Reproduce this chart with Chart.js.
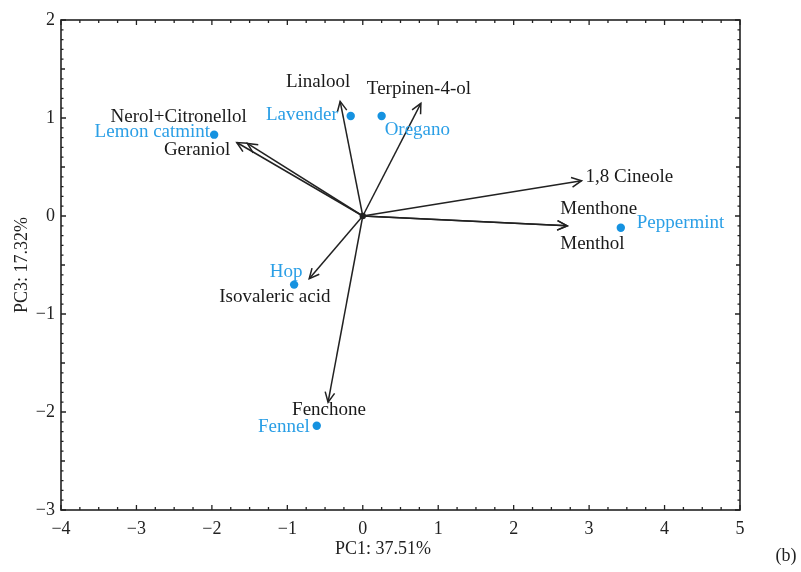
<!DOCTYPE html>
<html>
<head>
<meta charset="utf-8">
<script src="https://cdn.jsdelivr.net/npm/chart.js@4.4.1/dist/chart.umd.min.js"></script>
<style>
  html, body { margin:0; padding:0; background:#fff; }
  #wrap { width:801px; height:572px; }
</style>
</head>
<body>
<div id="wrap"><canvas id="biplot"></canvas></div>
<script>
// =======================
// DATA
// =======================
// sample scores (PC1, PC3)
const sampleNames = ["Lemon catmint", "Lavender", "Oregano", "Peppermint", "Hop", "Fennel"];
const sampleX = [-1.97, -0.16, 0.25, 3.42, -0.91, -0.61];
const sampleY = [0.83, 1.02, 1.02, -0.12, -0.70, -2.14];

// compound loadings (arrows from origin)
const loadingNames = ["Linalool", "Terpinen-4-ol", "Nerol+Citronellol", "Geraniol", "1,8 Cineole", "Menthone", "Menthol", "Isovaleric acid", "Fenchone"];
const loadingX = [-0.30, 0.77, -1.67, -1.53, 2.90, 2.71, 2.71, -0.71, -0.46];
const loadingY = [1.17, 1.15, 0.75, 0.74, 0.36, -0.10, -0.10, -0.64, -1.90];

const xTicks = [-4, -3, -2, -1, 0, 1, 2, 3, 4, 5];
const yTicks = [-3, -2, -1, 0, 1, 2];
const xTitle = "PC1: 37.51%";
const yTitle = "PC3: 17.32%";
const panelTag = "(b)";

// =======================
// STYLE
// =======================
const SERIF = "'Liberation Serif', 'DejaVu Serif', serif";
const INK = "#222222";
const BLUE_DOT = "#1592e0";
const BLUE_TEXT = "#2b9fe6";
const LABEL_FONT = "19px " + SERIF;

// label placement: pixel offset from the mark + text alignment
const sampleLabelPos = {
  "Lemon catmint": {dx:-4, dy:-3, align:"right"},
  "Lavender":      {dx:-13, dy:-1, align:"right"},
  "Oregano":       {dx:3, dy:14, align:"left"},
  "Peppermint":    {dx:16, dy:-5, align:"left"},
  "Hop":           {dx:-8, dy:-13, align:"center"},
  "Fennel":        {dx:-7, dy:1, align:"right"}
};
const loadingLabelPos = {
  "Linalool":          {dx:-22, dy:-19, align:"center"},
  "Terpinen-4-ol":     {dx:-54, dy:-14, align:"left"},
  "Nerol+Citronellol": {dx:10, dy:-25, align:"right"},
  "Geraniol":          {dx:-17, dy:7, align:"right"},
  "1,8 Cineole":       {dx:4, dy:-4, align:"left"},
  "Menthone":          {dx:-7, dy:-17, align:"left"},
  "Menthol":           {dx:-7, dy:18, align:"left"},
  "Isovaleric acid":   {dx:-90, dy:18, align:"left"},
  "Fenchone":          {dx:-36, dy:8, align:"left"}
};

function fmtTick(v){
  return v < 0 ? "\u2212" + Math.abs(v) : String(v);
}

// =======================
// DATASETS
// =======================
const arrowSets = loadingNames.map((name, i) => ({
  type: "line",
  label: name,
  data: [{x:0, y:0}, {x:loadingX[i], y:loadingY[i]}],
  showLine: true,
  borderColor: INK,
  borderWidth: 1.5,
  pointRadius: 0,
  isArrow: true
}));

const sampleSet = {
  type: "scatter",
  label: "samples",
  data: sampleNames.map((n, i) => ({x:sampleX[i], y:sampleY[i]})),
  pointRadius: 4.2,
  pointBackgroundColor: BLUE_DOT,
  pointBorderWidth: 0
};

const originSet = {
  type: "scatter",
  label: "origin",
  data: [{x:0, y:0}],
  pointRadius: 3.2,
  pointBackgroundColor: INK,
  pointBorderWidth: 0
};

// =======================
// PLUGINS
// =======================
const framePlugin = {
  id: "frame",
  afterDraw(chart){
    const {ctx, chartArea:a, scales} = chart;
    ctx.save();
    ctx.strokeStyle = INK;
    ctx.lineWidth = 1.6;
    ctx.strokeRect(a.left, a.top, a.right - a.left, a.bottom - a.top);

    ctx.lineWidth = 1.3;
    ctx.beginPath();
    // x ticks: every 0.25, long at integers
    for(let k = 0; k <= 36; k++){
      const v = -4 + k * 0.25;
      const px = scales.x.getPixelForValue(v);
      const len = (k % 4 === 0) ? 5 : 3;
      ctx.moveTo(px, a.bottom); ctx.lineTo(px, a.bottom - len);
      ctx.moveTo(px, a.top); ctx.lineTo(px, a.top + len);
    }
    // y ticks: every 0.1, medium at 0.5, long at integers
    for(let k = 0; k <= 50; k++){
      const v = -3 + k * 0.1;
      const py = scales.y.getPixelForValue(v);
      const len = (k % 10 === 0) ? 5 : (k % 5 === 0 ? 4 : 2.5);
      ctx.moveTo(a.left, py); ctx.lineTo(a.left + len, py);
      ctx.moveTo(a.right, py); ctx.lineTo(a.right - len, py);
    }
    ctx.stroke();

    // axis titles + panel tag
    ctx.fillStyle = INK;
    ctx.font = "18px " + SERIF;
    ctx.textBaseline = "middle";
    ctx.textAlign = "center";
    ctx.fillText(xTitle, 383, 549);
    ctx.save();
    ctx.translate(22, 265);
    ctx.rotate(-Math.PI / 2);
    ctx.fillText(yTitle, 0, 0);
    ctx.restore();
    ctx.fillText(panelTag, 786, 556);
    ctx.restore();
  }
};

const arrowPlugin = {
  id: "arrows",
  afterDatasetsDraw(chart){
    const {ctx} = chart;
    ctx.save();
    ctx.strokeStyle = INK;
    ctx.lineWidth = 1.5;
    ctx.font = LABEL_FONT;
    ctx.textBaseline = "middle";
    chart.data.datasets.forEach((ds, i) => {
      const meta = chart.getDatasetMeta(i);
      if(ds.isArrow){
        const p0 = meta.data[0], p1 = meta.data[1];
        const ang = Math.atan2(p1.y - p0.y, p1.x - p0.x);
        const L = 11, spread = 0.45;
        ctx.beginPath();
        ctx.moveTo(p1.x - L * Math.cos(ang - spread), p1.y - L * Math.sin(ang - spread));
        ctx.lineTo(p1.x, p1.y);
        ctx.lineTo(p1.x - L * Math.cos(ang + spread), p1.y - L * Math.sin(ang + spread));
        ctx.stroke();
        const pos = loadingLabelPos[ds.label];
        ctx.fillStyle = "#1a1a1a";
        ctx.textAlign = pos.align;
        ctx.fillText(ds.label, p1.x + pos.dx, p1.y + pos.dy);
      } else if(ds.label === "samples"){
        meta.data.forEach((pt, j) => {
          const name = sampleNames[j];
          const pos = sampleLabelPos[name];
          ctx.fillStyle = BLUE_TEXT;
          ctx.textAlign = pos.align;
          ctx.fillText(name, pt.x + pos.dx, pt.y + pos.dy);
        });
      }
    });
    ctx.restore();
  }
};

// =======================
// CHART
// =======================
new Chart(document.getElementById("biplot"), {
  type: "scatter",
  data: { datasets: [...arrowSets, sampleSet, originSet] },
  options: {
    responsive: true,
    maintainAspectRatio: false,
    animation: false,
    layout: { padding: {top:20, right:61, left:0, bottom:0} },
    plugins: { legend:{display:false}, tooltip:{enabled:false} },
    scales: {
      x: {
        type: "linear", min: -4, max: 5,
        afterBuildTicks: s => { s.ticks = xTicks.map(v => ({value:v})); },
        afterFit: s => { s.height = 62; },
        grid: { display:false, drawTicks:false },
        border: { display:false },
        ticks: { padding:8, color:INK, maxRotation:0, font:{family:SERIF, size:18}, callback: fmtTick }
      },
      y: {
        type: "linear", min: -3, max: 2,
        afterBuildTicks: s => { s.ticks = yTicks.map(v => ({value:v})); },
        afterFit: s => { s.width = 61; },
        grid: { display:false, drawTicks:false },
        border: { display:false },
        ticks: { padding:6, color:INK, font:{family:SERIF, size:18}, callback: fmtTick }
      }
    }
  },
  plugins: [framePlugin, arrowPlugin]
});
</script>
</body>
</html>
